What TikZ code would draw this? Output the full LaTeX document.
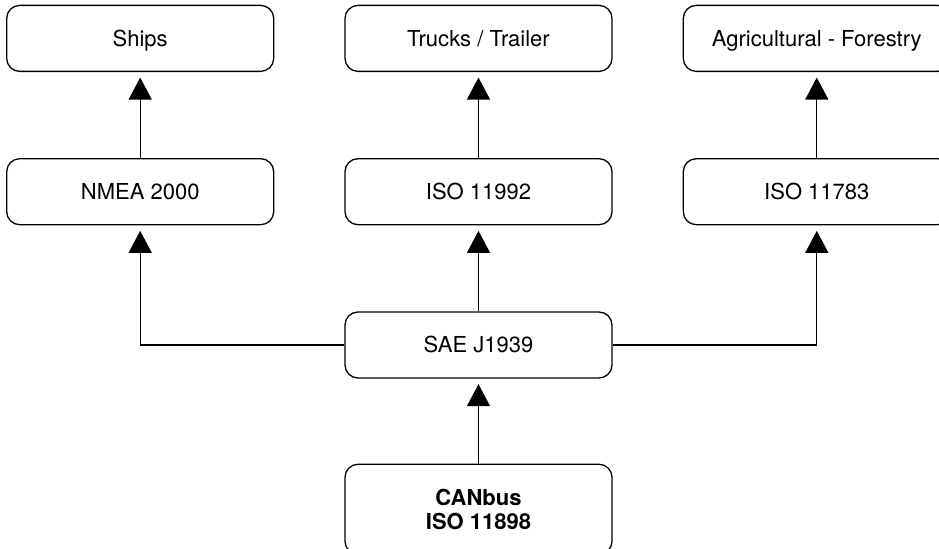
\documentclass[tikz,border=0pt]{standalone}
\usepackage{fontspec}
\setmainfont{TeX Gyre Heros}
\usetikzlibrary{arrows.meta,positioning}
\tikzset{%
shell/.style={draw,rounded corners=6.5pt,line width=0.65pt,minimum width=133.5pt,
              inner sep=0pt,align=center},
std/.style={shell,minimum height=33pt,text height=7.7pt,text depth=0pt,
            font=\fontsize{11}{12}\selectfont},
base/.style={shell,minimum height=45pt,font=\fontsize{11}{11.7}\selectfont\bfseries},
up/.style={draw,line width=0.65pt,shorten >=2.75pt,-{Triangle[width=11.5pt,length=11pt]}}
}
\begin{document}
\begin{tikzpicture}[node distance=43pt and 35pt]
\useasboundingbox (0,0) rectangle (469.5pt,-274.5pt);
\clip (0,0) rectangle (469.5pt,-274.5pt);
\node[std]                 (sae)    at (239.25pt,-172.5pt) {SAE J1939};
\node[std,above=of sae]    (iso92)                        {ISO 11992};
\node[std,above=of iso92]  (trucks)                       {Trucks / Trailer};
\node[std,left=of iso92]   (nmea)                         {NMEA 2000};
\node[std,above=of nmea]   (ships)                        {Ships};
\node[std,right=of iso92]  (iso83)                        {ISO 11783};
\node[std,above=of iso83]  (agri)                         {Agricultural - Forestry};
\node[base,below=42.5pt of sae] (can)                     {CANbus\\ISO 11898};
\foreach \f/\t in {nmea/ships,iso92/trucks,iso83/agri,sae/iso92,can/sae}
  \draw[up] (\f) -- (\t);
\draw[up] (sae.west) -| (nmea.south);
\draw[up] (sae.east) -| (iso83.south);
\end{tikzpicture}
\end{document}
